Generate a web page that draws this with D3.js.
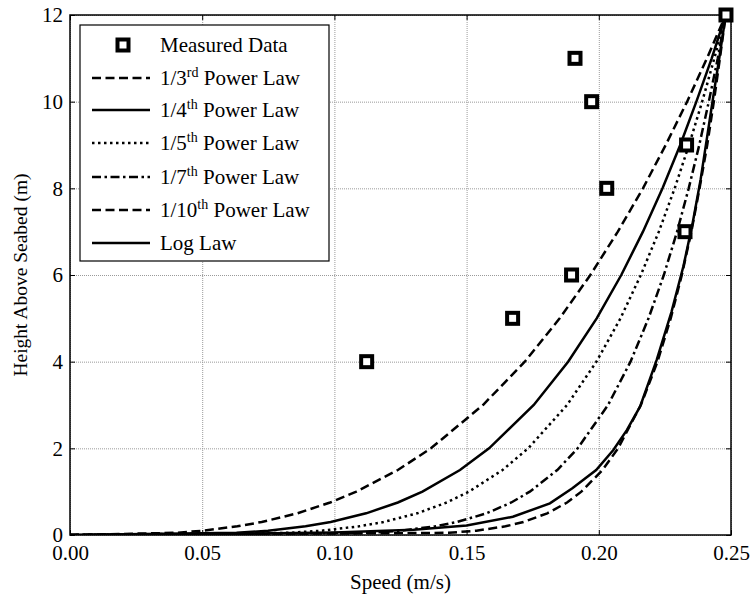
<!DOCTYPE html>
<html>
<head>
<meta charset="utf-8">
<script src="https://cdn.jsdelivr.net/npm/d3@7"></script>
<style>
  body { margin: 0; background: #fff; }
  svg text { font-family: "Liberation Serif", "Times New Roman", serif; fill: #000; }
  .grid line { stroke: #9a9a9a; stroke-dasharray: 1,1; }
  .grid path { display: none; }
  .ax path { display: none; }
  .ax line { stroke: #000; }
</style>
</head>
<body>
<script>
// heights (m) shared by the power-law profiles
var heights = [0, 0.05, 0.1, 0.2, 0.3, 0.5, 0.75, 1, 1.5, 2, 3, 4, 5, 6, 7, 8, 9, 10, 11, 12];
// speeds (m/s) at those heights
var power3  = [0, 0.0399, 0.0503, 0.0633, 0.0725, 0.0860, 0.0984, 0.1083, 0.1240, 0.1365, 0.1562, 0.1720, 0.1852, 0.1968, 0.2072, 0.2167, 0.2253, 0.2334, 0.2409, 0.248];
var power4  = [0, 0.0630, 0.0749, 0.0891, 0.0986, 0.1120, 0.1240, 0.1333, 0.1475, 0.1585, 0.1754, 0.1884, 0.1992, 0.2085, 0.2167, 0.2241, 0.2308, 0.2369, 0.2427, 0.248];
var power5  = [0, 0.0829, 0.0952, 0.1093, 0.1186, 0.1313, 0.1425, 0.1509, 0.1636, 0.1733, 0.1880, 0.1991, 0.2082, 0.2159, 0.2227, 0.2287, 0.2341, 0.2391, 0.2437, 0.248];
var power7  = [0, 0.1134, 0.1251, 0.1382, 0.1464, 0.1575, 0.1669, 0.1739, 0.1843, 0.1920, 0.2035, 0.2120, 0.2188, 0.2246, 0.2296, 0.2340, 0.2380, 0.2416, 0.2450, 0.248];
var power10 = [0, 0.1433, 0.1537, 0.1647, 0.1715, 0.1805, 0.1880, 0.1934, 0.2014, 0.2073, 0.2159, 0.2222, 0.2272, 0.2314, 0.2350, 0.2381, 0.2410, 0.2435, 0.2458, 0.248];
// log law profile
var logSpeed  = [0, 0.05, 0.10, 0.13, 0.15, 0.1675, 0.1815, 0.190, 0.199, 0.2055, 0.2106, 0.2156, 0.2219, 0.2275, 0.232, 0.2355, 0.2385, 0.241, 0.2435, 0.2458, 0.248];
var logHeight = [0, 0.02, 0.06, 0.12, 0.22, 0.42, 0.73, 1.08, 1.5, 1.96, 2.42, 2.96, 4.04, 5.15, 6.2, 7.2, 8.2, 9.2, 10.2, 11.1, 12];
// measured data
var measSpeed  = [0.1122, 0.1674, 0.1897, 0.2326, 0.2030, 0.2332, 0.1973, 0.1910, 0.2481];
var measHeight = [4, 5, 6, 7, 8, 9, 10, 11, 12];
// tick labels
var xTicks = [0, 0.05, 0.10, 0.15, 0.20, 0.25];
var yTicks = [0, 2, 4, 6, 8, 10, 12];

var W = 753, H = 599;
var pL = 70, pR = 731, pT = 15, pB = 535;

var svg = d3.select("body").append("svg")
            .attr("width", W)
            .attr("height", H);

var x = d3.scaleLinear().domain([0, 0.25]).range([pL, pR]);
var y = d3.scaleLinear().domain([0, 12]).range([pB, pT]);

// grid
svg.append("g")
   .attr("class", "grid")
   .attr("transform", "translate(0," + pB + ")")
   .call(d3.axisBottom(x).tickValues(xTicks).tickSize(-(pB - pT)).tickFormat(""));
svg.append("g")
   .attr("class", "grid")
   .attr("transform", "translate(" + pL + ",0)")
   .call(d3.axisLeft(y).tickValues(yTicks).tickSize(-(pR - pL)).tickFormat(""));

// series
var series = [
  {name: "1/3", sup: "rd", xs: power3, ys: heights, dash: "9,4.5"},
  {name: "1/4", sup: "th", xs: power4, ys: heights, dash: null},
  {name: "1/5", sup: "th", xs: power5, ys: heights, dash: "2.5,3.5"},
  {name: "1/7", sup: "th", xs: power7, ys: heights, dash: "9,3.5,2.5,3.5"},
  {name: "1/10", sup: "th", xs: power10, ys: heights, dash: "9,4.5"},
  {name: "Log Law", sup: null, xs: logSpeed, ys: logHeight, dash: null}
];

var line = d3.line()
             .x(function(d){ return x(d[0]); })
             .y(function(d){ return y(d[1]); });

svg.append("clipPath").attr("id", "clip")
   .append("rect").attr("x", pL).attr("y", pT - 2)
   .attr("width", pR - pL + 2).attr("height", pB - pT + 2);

svg.append("g")
   .attr("clip-path", "url(#clip)")
   .selectAll("path")
   .data(series)
   .enter()
   .append("path")
   .attr("d", function(s){ return line(s.xs.map(function(v, i){ return [v, s.ys[i]]; })); })
   .attr("fill", "none")
   .attr("stroke", "#000")
   .attr("stroke-width", 2.5)
   .attr("stroke-dasharray", function(s){ return s.dash; });

// axes (MATLAB style ticks inside the box)
svg.append("g")
   .attr("class", "ax")
   .attr("transform", "translate(0," + pB + ")")
   .call(d3.axisBottom(x).tickValues(xTicks).tickSizeInner(-5).tickSizeOuter(0).tickPadding(10).tickFormat(d3.format(".2f")))
   .selectAll("text").attr("font-size", "21px").attr("font-family", null);
svg.append("g")
   .attr("class", "ax")
   .attr("transform", "translate(" + pL + ",0)")
   .call(d3.axisLeft(y).tickValues(yTicks).tickSizeInner(-5).tickSizeOuter(0).tickPadding(7))
   .selectAll("text").attr("font-size", "21px").attr("font-family", null);
svg.append("g")
   .attr("class", "ax")
   .attr("transform", "translate(0," + pT + ")")
   .call(d3.axisTop(x).tickValues(xTicks).tickSizeInner(-5).tickSizeOuter(0).tickFormat(""));
svg.append("g")
   .attr("class", "ax")
   .attr("transform", "translate(" + pR + ",0)")
   .call(d3.axisRight(y).tickValues(yTicks).tickSizeInner(-5).tickSizeOuter(0).tickFormat(""));

svg.append("rect")
   .attr("x", pL).attr("y", pT)
   .attr("width", pR - pL).attr("height", pB - pT)
   .attr("fill", "none").attr("stroke", "#000").attr("stroke-width", 1.5);

// measured data markers
svg.append("g")
   .selectAll("rect")
   .data(measSpeed)
   .enter()
   .append("rect")
   .attr("x", function(d){ return x(d) - 5.5; })
   .attr("y", function(d, i){ return y(measHeight[i]) - 5.5; })
   .attr("width", 11)
   .attr("height", 11)
   .attr("fill", "#fff")
   .attr("stroke", "#000")
   .attr("stroke-width", 4);

// axis titles
svg.append("text")
   .attr("x", (pL + pR) / 2)
   .attr("y", 589)
   .attr("text-anchor", "middle")
   .attr("font-size", "21px")
   .text("Speed (m/s)");
svg.append("text")
   .attr("transform", "translate(27," + ((pT + pB) / 2) + ") rotate(-90)")
   .attr("text-anchor", "middle")
   .attr("font-size", "19.5px")
   .text("Height Above Seabed (m)");

// legend
var lg = svg.append("g");
lg.append("rect")
  .attr("x", 80).attr("y", 25)
  .attr("width", 249).attr("height", 236)
  .attr("fill", "#fff").attr("stroke", "#000").attr("stroke-width", 1.2);

var rowY = [45, 78, 110, 143, 177, 210, 243];
lg.append("rect")
  .attr("x", 123 - 5.5).attr("y", rowY[0] - 5.5)
  .attr("width", 11).attr("height", 11)
  .attr("fill", "#fff").attr("stroke", "#000").attr("stroke-width", 4);
lg.append("text")
  .attr("x", 160).attr("y", rowY[0] + 7)
  .attr("font-size", "21px")
  .text("Measured Data");

series.forEach(function(s, i){
  var yy = rowY[i + 1];
  lg.append("line")
    .attr("x1", 92).attr("x2", 150)
    .attr("y1", yy).attr("y2", yy)
    .attr("stroke", "#000").attr("stroke-width", 2.5)
    .attr("stroke-dasharray", s.dash);
  var t = lg.append("text")
            .attr("x", 160).attr("y", yy + 7)
            .attr("font-size", "21px");
  t.append("tspan").text(s.name);
  if (s.sup) {
    t.append("tspan").attr("font-size", "14px").attr("dy", -8).text(s.sup);
    t.append("tspan").attr("dy", 8).text(" Power Law");
  }
});
</script>
</body>
</html>
